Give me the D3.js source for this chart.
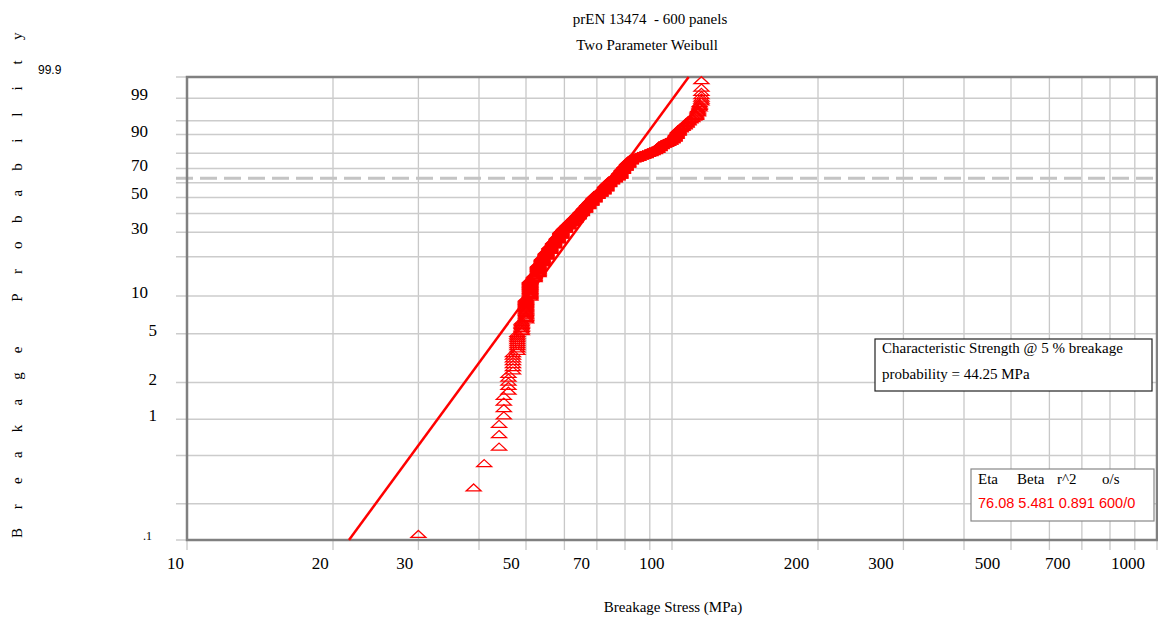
<!DOCTYPE html>
<html>
<head>
<meta charset="utf-8">
<script src="https://cdn.jsdelivr.net/npm/d3@7"></script>
<style>
  body { margin: 0; background: #fff; }
  svg { display: block; }
</style>
</head>
<body>
<svg id="chart" width="1158" height="617"></svg>
<script>
// breakage stress (whole MPa) and how many of the 600 panels broke at it
const stressValues = [
  30, 39, 41, 44, 45, 46, 47, 48, 49, 50, 51, 52, 53, 54, 55, 56, 57, 58, 59, 60,
  61, 62, 63, 64, 65, 66, 67, 68, 69, 70, 71, 72, 73, 74, 75, 76, 77, 78, 79, 80,
  81, 82, 83, 84, 85, 86, 87, 88, 89, 90, 91, 92, 93, 94, 95, 96, 97, 98, 99, 100,
  101, 102, 103, 104, 105, 106, 107, 108, 109, 110, 111, 112, 113, 114, 115
];
const panelCounts = [
  1, 1, 1, 3, 4, 5, 7, 10, 8, 21, 24, 8, 19, 14, 13, 13, 13, 13, 17, 11,
  11, 11, 12, 11, 13, 13, 14, 13, 14, 9, 9, 13, 18, 11, 9, 8, 7, 20, 14, 12,
  12, 8, 3, 3, 4, 3, 3, 4, 3, 4, 3, 4, 6, 7, 4, 3, 3, 3, 4, 5,
  7, 8, 7, 3, 3, 3, 4, 3, 2, 2, 1, 4, 5, 4, 7
];

// fit results shown in the table
const eta = 76.08;
const beta = 5.481;
const r2 = 0.891;
const outliers = "600/0";
const charStrength = 44.25;

// axis ticks / labels
const xGrid = [10, 20, 30, 40, 50, 60, 70, 80, 90, 100, 200, 300, 400, 500, 600, 700, 800, 900, 1000];
const xLabels = [10, 20, 30, 50, 70, 100, 200, 300, 500, 700, 1000];
const yGrid = [0.1, 0.2, 0.5, 1, 2, 5, 10, 20, 30, 40, 50, 60, 70, 80, 90, 95, 99, 99.9];
const yLabels = [99, 90, 70, 50, 30, 10, 5, 2, 1];

const svg = d3.select("#chart");
const serif = "'Liberation Serif', 'Times New Roman', serif";
const sans = "'Liberation Sans', Arial, sans-serif";

// weibull probability transform
const wb = function (p) {
  return Math.log(-Math.log(1 - p / 100));
};

const x = d3.scaleLog().domain([10, 1000]).range([187, 1157]);
const xLab = d3.scaleLog().domain([10, 1000]).range([184, 1145]);
const y = d3.scaleLinear().domain([wb(0.1), wb(99.9)]).range([540, 77]);

// grid
svg.append("g")
  .selectAll("line")
  .data(xGrid)
  .enter()
  .append("line")
  .attr("x1", d => x(d))
  .attr("x2", d => x(d))
  .attr("y1", y(wb(99.9)))
  .attr("y2", y(wb(0.1)) + 10)
  .attr("stroke", "#c8c8c8")
  .attr("stroke-width", 1.3);

svg.append("g")
  .selectAll("line")
  .data(yGrid)
  .enter()
  .append("line")
  .attr("x1", 176)
  .attr("x2", x(1000))
  .attr("y1", d => y(wb(d)))
  .attr("y2", d => y(wb(d)))
  .attr("stroke", "#cccccc")
  .attr("stroke-width", 1.5);

// 63.2% line
svg.append("line")
  .attr("x1", 176)
  .attr("x2", x(1000))
  .attr("y1", y(0))
  .attr("y2", y(0))
  .attr("stroke", "#c4c4c4")
  .attr("stroke-width", 3)
  .attr("stroke-dasharray", "17,7");

// plot frame
svg.append("rect")
  .attr("x", x(10))
  .attr("y", y(wb(99.9)))
  .attr("width", x(1000) - x(10))
  .attr("height", y(wb(0.1)) - y(wb(99.9)))
  .attr("fill", "none")
  .attr("stroke", "#808080")
  .attr("stroke-width", 2.5);

// axis labels
svg.append("g")
  .selectAll("text")
  .data(xLabels)
  .enter()
  .append("text")
  .attr("x", d => xLab(d))
  .attr("y", 569)
  .attr("text-anchor", "end")
  .attr("font-family", serif)
  .attr("font-size", 17)
  .text(d => d);

svg.append("g")
  .selectAll("text")
  .data(yLabels)
  .enter()
  .append("text")
  .attr("x", d => (String(d).length > 1 ? 148 : 157))
  .attr("y", d => y(wb(d)) + 2)
  .attr("text-anchor", "end")
  .attr("font-family", serif)
  .attr("font-size", 17)
  .text(d => d);

svg.append("text")
  .attr("x", 152)
  .attr("y", 540)
  .attr("text-anchor", "end")
  .attr("font-family", serif)
  .attr("font-size", 12)
  .text(".1");

svg.append("text")
  .attr("x", 38)
  .attr("y", 74)
  .attr("font-family", sans)
  .attr("font-size", 12)
  .text("99.9");

// titles
svg.append("text")
  .attr("x", 650)
  .attr("y", 24)
  .attr("text-anchor", "middle")
  .attr("font-family", serif)
  .attr("font-size", 15)
  .attr("xml:space", "preserve")
  .text("prEN 13474  - 600 panels");

svg.append("text")
  .attr("x", 647)
  .attr("y", 50)
  .attr("text-anchor", "middle")
  .attr("font-family", serif)
  .attr("font-size", 15)
  .text("Two Parameter Weibull");

svg.append("text")
  .attr("x", 673)
  .attr("y", 612)
  .attr("text-anchor", "middle")
  .attr("font-family", serif)
  .attr("font-size", 15)
  .text("Breakage Stress (MPa)");

// vertical title, one evenly spaced letter at a time
const yTitle = "Breakage Probability".split("");
svg.append("g")
  .selectAll("text")
  .data(yTitle)
  .enter()
  .append("text")
  .attr("transform", (d, i) => "translate(22," + (533 - i * 26.15) + ") rotate(-90)")
  .attr("text-anchor", "middle")
  .attr("font-family", serif)
  .attr("font-size", 15)
  .text(d => d);

// fitted weibull line
const lineEnds = [wb(0.1), wb(99.9)];
svg.append("line")
  .attr("x1", x(eta * Math.exp(lineEnds[0] / beta)))
  .attr("y1", y(lineEnds[0]))
  .attr("x2", x(eta * Math.exp(lineEnds[1] / beta)))
  .attr("y2", y(lineEnds[1]))
  .attr("stroke", "#ff0000")
  .attr("stroke-width", 2.5);

// one point per panel, sorted, plotted at its median rank
const panels = [];
stressValues.forEach((s, k) => {
  for (let j = 0; j < panelCounts[k]; j++) panels.push(s);
});
const n = panels.length;
svg.append("g")
  .selectAll("path")
  .data(panels)
  .enter()
  .append("path")
  .attr("transform", (d, i) => {
    const p = ((i + 1 - 0.3) / (n + 0.4)) * 100;
    return "translate(" + x(d) + "," + y(wb(p)) + ")";
  })
  .attr("d", "M0,-1.5L7.5,5.5L-7.5,5.5Z")
  .attr("fill", "none")
  .attr("stroke", "#ff0000")
  .attr("stroke-width", 1.25);

// characteristic strength box
const box1 = svg.append("g").attr("transform", "translate(875,339)");
box1.append("rect")
  .attr("width", 277)
  .attr("height", 52)
  .attr("fill", "#fff")
  .attr("stroke", "#222")
  .attr("stroke-width", 1.2);
box1.append("text")
  .attr("x", 7)
  .attr("y", 14)
  .attr("font-family", serif)
  .attr("font-size", 15)
  .text("Characteristic Strength @ 5 % breakage");
box1.append("text")
  .attr("x", 7)
  .attr("y", 40)
  .attr("font-family", serif)
  .attr("font-size", 15)
  .text("probability = " + charStrength.toFixed(2) + " MPa");

// parameter table
const box2 = svg.append("g").attr("transform", "translate(971,469)");
box2.append("rect")
  .attr("width", 183)
  .attr("height", 52)
  .attr("fill", "#fff")
  .attr("stroke", "#888")
  .attr("stroke-width", 1.2);
const heads = ["Eta", "Beta", "r^2", "o/s"];
const headX = [7, 46, 86, 131];
box2.append("g")
  .selectAll("text")
  .data(heads)
  .enter()
  .append("text")
  .attr("x", (d, i) => headX[i])
  .attr("y", 15)
  .attr("font-family", serif)
  .attr("font-size", 15)
  .text(d => d);
box2.append("text")
  .attr("x", 7)
  .attr("y", 39)
  .attr("font-family", sans)
  .attr("font-size", 14.5)
  .attr("fill", "#ff0000")
  .text(eta.toFixed(2) + " " + beta.toFixed(3) + " " + r2.toFixed(3) + " " + outliers);
</script>
</body>
</html>
